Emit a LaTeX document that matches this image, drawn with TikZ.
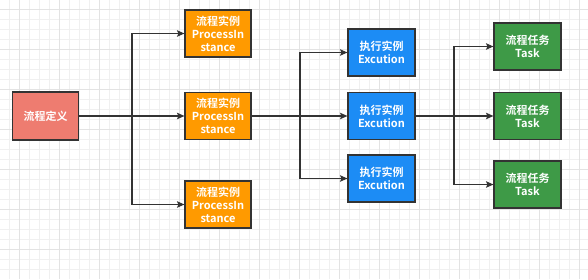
\documentclass[tikz,border=0pt]{standalone}
\usepackage{fontspec}
\newfontfamily\cjk[BoldFont={Noto Sans CJK SC Bold}]{Noto Sans CJK SC}
\usepackage{xcolor}
\usepackage{tikz}
\usetikzlibrary{arrows.meta, positioning, calc}
\definecolor{defred}{HTML}{EE7C70}
\definecolor{procorange}{HTML}{FF9A00}
\definecolor{execblue}{HTML}{1C8CF5}
\definecolor{taskgreen}{HTML}{3E9A47}
\definecolor{edgegray}{HTML}{333333}
\tikzset{
  blk/.style={rectangle, draw=edgegray, line width=1.1pt, text=white,
              minimum width=66pt, minimum height=47pt, inner sep=0pt,
              align=center, font=\cjk\bfseries\fontsize{11}{13}\selectfont},
  defblk/.style={blk, fill=defred, minimum height=48pt},
  procblk/.style={blk, fill=procorange},
  execblk/.style={blk, fill=execblue, minimum width=67pt},
  taskblk/.style={blk, fill=taskgreen, minimum width=67pt},
  arc/.style={-{Stealth[length=7.5pt, width=6.5pt, inset=1.5pt]}, line width=1.1pt, edgegray},
  fine/.style={gray!12, line width=0.6pt},
  bold/.style={gray!22, line width=0.8pt}
}
\begin{document}
\begin{tikzpicture}[x=1pt, y=-1pt]
  \useasboundingbox (0,0) rectangle (588,279);
  \fill[white] (0,0) rectangle (588,279);
  % grid
  \foreach \gx in {9,19,...,579} \draw[fine] (\gx,0) -- (\gx,279);
  \foreach \gy in {9,19,...,269} \draw[fine] (0,\gy) -- (588,\gy);
  \foreach \gx in {19,59,...,579} \draw[bold] (\gx,0) -- (\gx,279);
  \foreach \gy in {9,49,...,249} \draw[bold] (0,\gy) -- (588,\gy);

  \node[defblk] (def) at (45.5,116) {流程定义};

  \node[procblk] (p1) at (218,33.5) {流程实例\\ProcessIn\\stance};
  \node[procblk] (p2) at (218,116) {流程实例\\ProcessIn\\stance};
  \node[procblk] (p3) at (218,204.5) {流程实例\\ProcessIn\\stance};

  \node[execblk] (e1) at (381.5,52.5) {执行实例\\Excution};
  \node[execblk] (e2) at (381.5,116) {执行实例\\Excution};
  \node[execblk] (e3) at (381.5,178.5) {执行实例\\Excution};

  \node[taskblk] (t1) at (527.5,46.5) {流程任务\\Task};
  \node[taskblk] (t2) at (527.5,116) {流程任务\\Task};
  \node[taskblk] (t3) at (527.5,184.5) {流程任务\\Task};

  \coordinate (j1) at (132,116);
  \coordinate (j2) at (300,116);
  \coordinate (j3) at (454,116);

  \draw[arc] (def.east) -- (p2.west);
  \draw[arc] (j1) |- (p1.west);
  \draw[arc] (j1) |- (p3.west);

  \draw[arc] (p2.east) -- (e2.west);
  \draw[arc] (j2) |- (e1.west);
  \draw[arc] (j2) |- (e3.west);

  \draw[arc] (e2.east) -- (t2.west);
  \draw[arc] (j3) |- (t1.west);
  \draw[arc] (j3) |- (t3.west);
\end{tikzpicture}
\end{document}
